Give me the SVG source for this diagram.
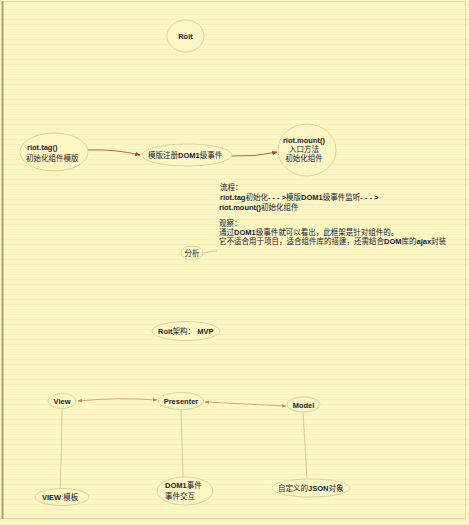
<svg xmlns="http://www.w3.org/2000/svg" width="469" height="525" viewBox="0 0 469 525">
<style>
.t{font-family:"Liberation Sans","Noto Sans CJK SC",sans-serif;font-size:7.5px;fill:#20203a}
.b{font-weight:bold}
.n{fill:#fdf6c2;stroke:#d9d3a6;stroke-width:1}
.c1{fill:none;stroke:#a5553a;stroke-width:0.9}
.c2{fill:none;stroke:#c9a378;stroke-width:0.9}
.c3{fill:none;stroke:#d6caa0;stroke-width:1}
</style>
<defs>
<pattern id="lines" width="469" height="5" patternUnits="userSpaceOnUse">
<rect width="469" height="5" fill="#fdf6c3"/>
<line x1="0" y1="4.5" x2="469" y2="4.5" stroke="#f8efbb" stroke-width="1"/>
</pattern>
<marker id="ar" viewBox="0 0 10 10" refX="9" refY="5" markerWidth="6" markerHeight="6" orient="auto">
<path d="M0,1 L10,5 L0,9 z" fill="#c83a26"/>
</marker>
<marker id="am" viewBox="0 0 10 10" refX="9" refY="5" markerWidth="5" markerHeight="5" orient="auto-start-reverse">
<path d="M0,1 L10,5 L0,9 z" fill="#c88a5a"/>
</marker>
</defs>
<rect x="0" y="0" width="469" height="525" fill="url(#lines)"/>
<rect x="2.5" y="1.5" width="463" height="517" fill="none" stroke="#ddd7ab" stroke-width="1"/>
<line x1="2.5" y1="1" x2="2.5" y2="519" stroke="#a8a47a" stroke-width="2"/>

<g id="connectors">
<path class="c1" d="M88,150 Q115,149 140,155" marker-end="url(#ar)"/>
<path class="c1" d="M232,156 Q255,157 277,152" marker-end="url(#ar)"/>
<path class="c3" d="M204,253 Q210,251 217,251"/>
<path class="c2" d="M78,401 Q118,397 157,400" marker-start="url(#am)" marker-end="url(#am)"/>
<path class="c2" d="M205,402 Q245,404 286,406" marker-start="url(#am)" marker-end="url(#am)"/>
<path class="c3" d="M62,409 Q62,450 60,488"/>
<path class="c3" d="M181,410 Q182,440 183,477"/>
<path class="c3" d="M303,412 Q305,445 307,479"/>
</g>

<g id="roit">
<ellipse class="n" cx="185.5" cy="36" rx="18.5" ry="16"/>
<text class="t b" x="185.5" y="39" text-anchor="middle">Roit</text>
</g>

<g id="riot-tag">
<ellipse class="n" cx="54" cy="152" rx="34" ry="19"/>
<text class="t b" x="27" y="150">riot.tag()</text>
<text class="t" x="26" y="161">初始化组件模版</text>
</g>

<g id="dom1">
<ellipse class="n" cx="187" cy="155" rx="45" ry="11"/>
<text class="t" x="148" y="158">模版注册<tspan class="b">DOM1</tspan>级事件</text>
</g>

<g id="riot-mount">
<ellipse class="n" cx="307" cy="150" rx="29" ry="26"/>
<text class="t b" x="304" y="143" text-anchor="middle">riot.mount()</text>
<text class="t" x="304" y="152" text-anchor="middle">入口方法</text>
<text class="t" x="304" y="161" text-anchor="middle">初始化组件</text>
</g>

<g id="analysis">
<ellipse class="n" cx="192" cy="253" rx="11" ry="7"/>
<text class="t" x="192" y="256" text-anchor="middle">分析</text>
</g>

<g id="analysis-text">
<text class="t" x="220" y="190">流程：</text>
<text class="t" x="220" y="200"><tspan class="b">riot.tag</tspan>初始化<tspan class="b">- - - &gt;</tspan>模版<tspan class="b">DOM1</tspan>级事件监听<tspan class="b">- - - &gt;</tspan></text>
<text class="t" x="219" y="210"><tspan class="b">riot.mount()</tspan>初始化组件</text>
<text class="t" x="219" y="226">观察：</text>
<text class="t" x="219" y="235">通过<tspan class="b">DOM1</tspan>级事件就可以看出，此框架是针对组件的。</text>
<text class="t" x="219" y="244">它不适合用于项目，适合组件库的搭建，还需结合<tspan class="b">DOM</tspan>库的<tspan class="b">ajax</tspan>封装</text>
</g>

<g id="mvp">
<ellipse class="n" cx="186" cy="331" rx="34" ry="9.5"/>
<text class="t" x="158" y="334"><tspan class="b">Roit</tspan>架构： <tspan class="b">MVP</tspan></text>
</g>

<g id="view">
<ellipse class="n" cx="62" cy="401" rx="14" ry="7.5"/>
<text class="t b" x="62" y="404" text-anchor="middle">View</text>
</g>

<g id="presenter">
<ellipse class="n" cx="181" cy="401" rx="22.5" ry="8.5"/>
<text class="t b" x="181" y="404" text-anchor="middle">Presenter</text>
</g>

<g id="model">
<ellipse class="n" cx="303.5" cy="404.5" rx="16.5" ry="7.5"/>
<text class="t b" x="303.5" y="407.5" text-anchor="middle">Model</text>
</g>

<g id="view-template">
<ellipse class="n" cx="62" cy="497" rx="27" ry="8.5"/>
<text class="t" x="42" y="500"><tspan class="b">VIEW</tspan>:模板</text>
</g>

<g id="dom-events">
<ellipse class="n" cx="185" cy="491" rx="28" ry="14"/>
<text class="t" x="165" y="488"><tspan class="b">DOM1</tspan>事件</text>
<text class="t" x="165" y="499">事件交互</text>
</g>

<g id="json">
<ellipse class="n" cx="311" cy="488" rx="39" ry="9"/>
<text class="t" x="278" y="491">自定义的<tspan class="b">JSON</tspan>对象</text>
</g>
</svg>
